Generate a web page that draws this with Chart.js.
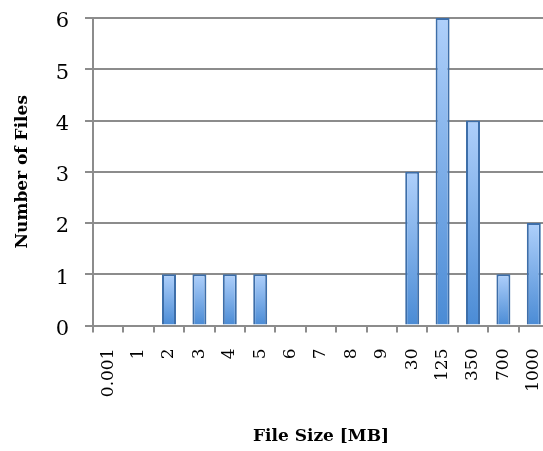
<!DOCTYPE html>
<html>
<head>
<meta charset="utf-8">
<script src="https://cdn.jsdelivr.net/npm/chart.js@4/dist/chart.umd.min.js"></script>
<style>
  html, body { margin: 0; padding: 0; background: #fff; overflow: hidden; }
  canvas { display: block; }
</style>
</head>
<body>
<canvas id="c" width="549" height="451"></canvas>
<script>
// File size buckets (MB) and how many files fall in each
const fileSizes = ['0.001', '1', '2', '3', '4', '5', '6', '7', '8', '9', '30', '125', '350', '700', '1000'];
const fileCounts = [0, 0, 1, 1, 1, 1, 0, 0, 0, 0, 3, 6, 4, 1, 2];
const countRange = [0, 6];

const FONT = "'DejaVu Serif', serif";
const GRID = 'rgb(140,140,140)';

// Vertical gradient per bar: light blue at the top, deeper blue at the base
function barFill(ctx) {
  const chart = ctx.chart;
  if (!chart.chartArea || ctx.type !== 'data') return '#7fb0ea';
  const y = chart.scales.y;
  const top = y.getPixelForValue(ctx.raw);
  const base = y.getPixelForValue(0);
  if (!(base > top)) return '#7fb0ea';
  const g = chart.ctx.createLinearGradient(0, top, 0, base);
  g.addColorStop(0, '#afd0fb');
  g.addColorStop(1, '#4a8bd5');
  return g;
}

new Chart(document.getElementById('c'), {
  type: 'bar',
  data: {
    labels: fileSizes,
    datasets: [{
      data: fileCounts,
      backgroundColor: barFill,
      borderColor: '#3d6ea9',
      borderWidth: 2,
      barPercentage: 1,
      categoryPercentage: 0.46
    }]
  },
  options: {
    responsive: false,
    animation: false,
    devicePixelRatio: 1,
    layout: { padding: { top: 18, left: 0, right: 0, bottom: 0 } },
    plugins: { legend: { display: false }, tooltip: { enabled: false } },
    scales: {
      x: {
        offset: true,
        grid: { display: true, drawOnChartArea: false, drawTicks: true, tickLength: 7, color: GRID, lineWidth: 2, offset: true },
        border: { display: true, color: GRID, width: 2 },
        ticks: {
          color: '#000', font: { family: FONT, size: 17 },
          minRotation: 90, maxRotation: 90, padding: 16, autoSkip: false
        },
        title: {
          display: true, text: 'File Size [MB]', color: '#000',
          font: { family: FONT, size: 17, weight: 'bold' },
          padding: { top: 0, bottom: 4 }
        },
        // fixed band below the plot; labels may run to the canvas edge
        afterFit: s => { s.height = 451 - 325.5; s.paddingLeft = 0; s.paddingRight = 0; }
      },
      y: {
        min: countRange[0], max: countRange[1],
        grid: { display: true, drawOnChartArea: true, color: GRID, lineWidth: 2, tickLength: 8, drawTicks: true },
        border: { display: true, color: GRID, width: 2 },
        ticks: {
          stepSize: 1, color: '#000', font: { family: FONT, size: 21 }, padding: 16, labelOffset: 4
        },
        title: {
          display: true, text: 'Number of Files', color: '#000',
          font: { family: FONT, size: 17, weight: 'bold' },
          padding: { top: 12, bottom: 0 }
        },
        afterFit: s => { s.width = 93; s.paddingTop = 0; s.paddingBottom = 0; }
      }
    }
  }
});
</script>
</body>
</html>
